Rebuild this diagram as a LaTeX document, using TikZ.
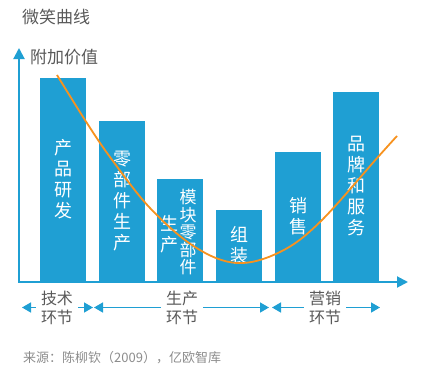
\documentclass[tikz,border=0pt]{standalone}
\usepackage{fontspec}
\setmainfont{Noto Sans CJK SC}
\usepackage{tikz}
\usetikzlibrary{arrows.meta,positioning}
\definecolor{barblue}{HTML}{1F9FD3}
\definecolor{smileorange}{HTML}{F7921E}
\definecolor{labelgray}{HTML}{595959}
\definecolor{notegray}{HTML}{8C8C8C}
\newcommand{\barfont}{\fontsize{18}{21}\selectfont}
\newcommand{\tightbarfont}{\fontsize{17}{17.4}\selectfont}

\begin{document}
\begin{tikzpicture}[
    x = 1pt, y = -1pt,
    bar/.style =
    { fill          = barblue,
      anchor        = south west,
      minimum width = 46pt,
      inner sep     = 0pt,
      text          = white,
      align         = center,
      font          = \barfont },
    axis/.style =
    { -{Triangle[length = 11pt, width = 11pt]},
      draw       = barblue,
      line width = 2pt },
    span/.style =
    { -{Triangle[length = 9pt, width = 10pt]},
      draw       = barblue,
      line width = 1.5pt },
    stage/.style =
    { align        = center,
      text         = labelgray,
      inner xsep   = 5pt,
      inner ysep   = 0pt,
      font         = \fontsize{16}{19}\selectfont },
    heading/.style =
    { anchor    = west,
      inner sep = 0pt,
      text      = labelgray,
      font      = \fontsize{17}{20}\selectfont },
    smile/.style =
    { draw       = smileorange,
      line width = 1.8pt }
  ]
  \useasboundingbox (0,0) rectangle (434,378);

  % titles
  \node[heading] (title) at (22,17) {微笑曲线};
  \node[heading] (ylabel) at (30,57) {附加价值};

  % bars
  \node[bar, minimum height = 203pt] (b1) at (40,281) {产\\品\\研\\发};
  \node[bar, minimum height = 160pt] (b2) at (99,281) {零\\部\\件\\生\\产};
  \node[bar, minimum height = 102pt] (b3) at (157,281) {};
  \node[bar, minimum height = 71pt]  (b4) at (216,281) {组\\装};
  \node[bar, minimum height = 129pt] (b5) at (275,281) {销\\售};
  \node[bar, minimum height = 189pt] (b6) at (333,281) {品\\牌\\和\\服\\务};
  \node[text = white, align = center, inner sep = 0pt, font = \barfont]
    (b3a) at ([xshift = -11pt, yshift = -4pt]b3.center) {生\\产};
  \node[text = white, align = center, inner sep = 0pt, font = \tightbarfont]
    (b3b) at ([xshift = 8pt, yshift = -2.5pt]b3.center) {模\\块\\零\\部\\件};

  % axes
  \coordinate (o) at (19,282);
  \coordinate (ytip) at (19,48);
  \coordinate (xtip) at (408,282);
  \draw[axis] ([yshift = 1pt]o) -- (ytip);
  \draw[axis] ([xshift = -1pt]o) -- (xtip);

  % smile curve
  \draw[smile] plot[smooth, tension = 0.6] coordinates
    {(57,75) (85,120) (110,157) (150,208) (195,247) (237,263)
     (280,252) (320,222) (378,157) (397,136)};

  % stages
  \node[stage] (s1) at (57,307.5) {技术\\环节};
  \node[stage] (s2) at (182,307.5) {生产\\环节};
  \node[stage] (s3) at (325,307.5) {营销\\环节};
  \coordinate (s1l) at (22,307.5);
  \coordinate (s1r) at (93,307.5);
  \coordinate (s2l) at (94,307.5);
  \coordinate (s2r) at (269,307.5);
  \coordinate (s3l) at (272,307.5);
  \coordinate (s3r) at (380,307.5);
  \foreach \s in {s1,s2,s3} {
    \draw[span] (\s) -- (\s l);
    \draw[span] (\s) -- (\s r);
  }

  % source
  \node[anchor = west, inner sep = 0pt, text = notegray,
        font = \fontsize{13}{15}\selectfont] (src) at (23,358)
    {来源：陈柳钦（2009），亿欧智库};
\end{tikzpicture}
\end{document}
